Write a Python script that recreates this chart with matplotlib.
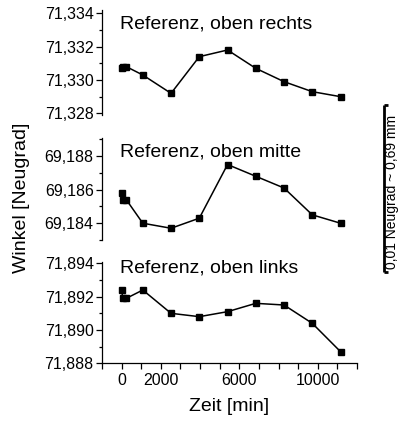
import matplotlib
matplotlib.use("Agg")
import matplotlib.pyplot as plt
from matplotlib.ticker import FixedLocator, MultipleLocator, FuncFormatter
from matplotlib.lines import Line2D

plt.rcParams['font.family'] = ['Liberation Sans', 'DejaVu Sans']

# Messzeitpunkte [min]
zeit = [0, 60, 240, 1080, 2520, 3960, 5400, 6840, 8280, 9720, 11160]

# Winkel [Neugrad] der drei Referenzpunkte
oben_rechts = [71.3307, 71.3308, 71.3308, 71.3303, 71.3292, 71.3314,
               71.3318, 71.3307, 71.3299, 71.3293, 71.3290]
oben_mitte = [69.1858, 69.1854, 69.1854, 69.1840, 69.1837, 69.1843,
              69.1875, 69.1868, 69.1861, 69.1845, 69.1840]
oben_links = [71.8924, 71.8919, 71.8919, 71.8924, 71.8910, 71.8908,
              71.8911, 71.8916, 71.8915, 71.8904, 71.8887]

titel = ["Referenz, oben rechts", "Referenz, oben mitte", "Referenz, oben links"]
x_ticks_beschriftet = [0, 2000, 6000, 10000]

W, H = 402, 421
fig = plt.figure(figsize=(W / 100, H / 100), dpi=100)


def box(left, top, right, bottom):
    return [left / W, 1 - bottom / H, (right - left) / W, (bottom - top) / H]


panels = [
    (oben_rechts, (71.3279, 71.3342), box(102, 10, 357, 115), 24),
    (oben_mitte, (69.1830, 69.1891), box(102, 137.7, 357, 240), 152),
    (oben_links, (71.8880, 71.8941), box(102, 261.7, 357, 363.3), 268),
]

komma = FuncFormatter(lambda v, p: f"{v:.3f}".replace(".", ","))

axes = []
for i, (werte, ylim, pos, ytitel) in enumerate(panels):
    ax = fig.add_axes(pos)
    ax.patch.set_alpha(0)
    ax.plot(zeit, werte, color='black', lw=1.1, marker='s', ms=4.8,
            mec='black', mfc='black')
    ax.set_xlim(-1000, 12000)
    ax.set_ylim(*ylim)
    ax.yaxis.set_major_locator(MultipleLocator(0.002))
    ax.yaxis.set_minor_locator(MultipleLocator(0.001))
    ax.yaxis.set_major_formatter(komma)
    ax.tick_params(axis='y', which='major', length=4, width=0.9,
                   labelsize=11.5, pad=2)
    ax.tick_params(axis='y', which='minor', length=2.5, width=0.9)
    for s in ['top', 'right']:
        ax.spines[s].set_visible(False)
    ax.spines['left'].set_linewidth(0.9)
    if i < 2:
        ax.spines['bottom'].set_visible(False)
        ax.set_xticks([])
    else:
        ax.spines['bottom'].set_linewidth(0.9)
        ax.xaxis.set_major_locator(FixedLocator(x_ticks_beschriftet))
        ax.xaxis.set_minor_locator(MultipleLocator(1000))
        ax.tick_params(axis='x', which='both', length=4, width=0.9,
                       labelsize=11.5, pad=3)
        ax.set_xlabel("Zeit [min]", fontsize=14, labelpad=7)
    fig.text(120 / W, 1 - ytitel / H, titel[i], fontsize=14,
             ha='left', va='center')
    axes.append(ax)

fig.text(22 / W, 1 - 198 / H, "Winkel [Neugrad]", rotation=90,
         fontsize=14, ha='center', va='center')

# Massstab: 0,01 Neugrad in Pixeln der Achsenskala
ax0 = axes[2]
p0 = ax0.transData.transform((0, 71.888))
p1 = ax0.transData.transform((0, 71.898))
laenge = (p1[1] - p0[1]) / H
x_bar = 384 / W
y_unten = 1 - 271.5 / H
cap = 4 / W
for xs, ys in [([x_bar, x_bar], [y_unten, y_unten + laenge]),
               ([x_bar, x_bar + cap], [y_unten, y_unten]),
               ([x_bar, x_bar + cap], [y_unten + laenge, y_unten + laenge])]:
    fig.add_artist(Line2D(xs, ys, color='black', lw=2.0,
                          transform=fig.transFigure, solid_capstyle='butt'))
fig.text(392 / W, 1 - 192 / H, "0,01 Neugrad ~ 0,69 mm",
         rotation=90, fontsize=10, ha='center', va='center')

fig.savefig("out.png", dpi=100)
